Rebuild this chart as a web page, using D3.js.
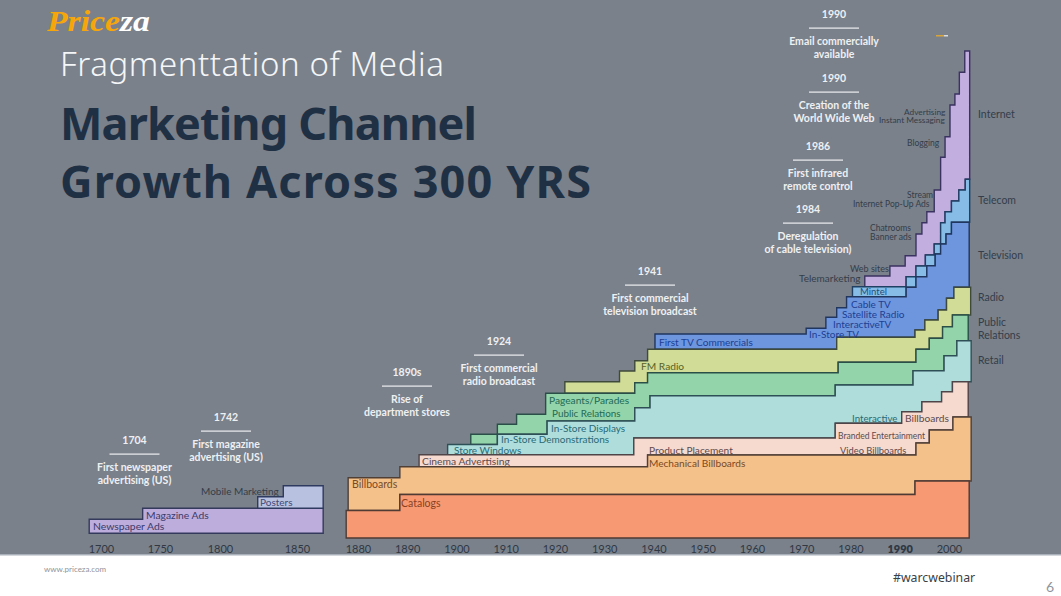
<!DOCTYPE html>
<html>
<head>
<meta charset="utf-8">
<script src="https://cdn.jsdelivr.net/npm/d3@7"></script>
<style>
    html, body { margin: 0; padding: 0; background: #7a818b; overflow: hidden; }
    text { font-family: Lato, "Noto Sans", sans-serif; }
</style>
</head>
<body>
<div id="chart"></div>
<script>
//tick labels
const earlyTicks = [1700, 1750, 1800, 1850];
const modernTicks = [1880, 1890, 1900, 1910, 1920, 1930, 1940, 1950, 1960, 1970, 1980, 1990, 2000];

//each band is a list of [year, level], the level holds until the next year, last entry only ends the band
const earlyBase = [[1690, 4.7], [1867, 4.7]];
const print = [[1690, 18.7], [1735.3, 29.7], [1867, 29.7]];
const outdoorEarly = [[1824.5, 41.3], [1841.1, 52.3], [1867, 52.3]];

const modernBase = [[1877.6, 0], [2004.1, 0]];
const catalogs = [[1877.6, 27.5], [1888.5, 43.5], [1993.1, 57], [2004.1, 57]];
const billboards = [[1878, 60.3], [1888.5, 71.3], [1938.8, 83], [1993.3, 95], [1996, 108], [2000.8, 121], [2004.5, 121]];
const cinema = [[1892.4, 83.3], [1936, 100], [1976.9, 114.7], [1990.4, 126.3], [1994.5, 136.3], [1998.5, 146.3], [2000.7, 156.3], [2003.9, 156.3]];
const retail = [[1898.2, 93.5], [1908.3, 103.7], [1918.4, 117], [1936.2, 130.3], [1939.3, 142.3], [1976.9, 153], [1992.7, 167.3], [1999, 182.3], [2001.6, 197.3], [2004.5, 197.3]];
const publicRelations = [[1902.9, 103.7], [1908.3, 113.7], [1912.2, 123.7], [1918.1, 144.7], [1936.2, 155.3], [1938.8, 165.3], [1977.5, 175.7], [1993.3, 188.7], [1996, 199.7], [1998.7, 211.3], [2000.7, 223], [2003.9, 223]];
const radio = [[1922, 156.3], [1933.1, 167], [1936.2, 177.3], [1938.8, 188.7], [1977.2, 200.7], [1993.1, 208], [1995.1, 218], [1997.8, 228], [1999.5, 239.7], [2001, 250.7], [2004.4, 250.7]];
const television = [[1940.3, 204], [1971, 209.7], [1975, 220.7], [1977.2, 230.3], [1979.2, 241.3], [1991.3, 250.7], [1993.3, 261.3], [1995.5, 272.3], [1997.2, 284], [1998.3, 294], [1999.4, 304], [2000.5, 315.7], [2004.1, 315.7]];
const telecom = [[1980.4, 251.3], [1991.3, 261.3], [1993.3, 272], [1995.2, 283], [1997, 294], [1998.3, 315.3], [1999.2, 326.3], [2000.5, 337], [2002, 348], [2003.3, 358.7], [2004.2, 358.7]];
const internet = [[1982.9, 262], [1988, 272], [1991.1, 282.3], [1993.3, 304], [1994.5, 315.3], [1995.5, 326.3], [1997, 348], [1998.3, 380.7], [1999.2, 401.3], [2000.2, 433], [2001.2, 444], [2002.1, 465.7], [2003.2, 487], [2004.2, 487]];

const milestoneYears = ["1704", "1742", "1890s", "1924", "1941", "1984", "1986", "1990", "1990"];
const milestoneTexts = [
    ["First newspaper", "advertising (US)"],
    ["First magazine", "advertising (US)"],
    ["Rise of", "department stores"],
    ["First commercial", "radio broadcast"],
    ["First commercial", "television broadcast"],
    ["Deregulation", "of cable television)"],
    ["First infrared", "remote control"],
    ["Creation of the", "World Wide Web"],
    ["Email commercially", "available"]
];

const channelNames = ["Newspaper Ads", "Magazine Ads", "Posters", "Mobile Marketing", "Billboards", "Catalogs",
    "Cinema Advertising", "Store Windows", "In-Store Demonstrations", "In-Store Displays", "Public Relations",
    "Pageants/Parades", "FM Radio", "First TV Commercials", "Product Placement", "Mechanical Billboards",
    "Video Billboards", "Branded Entertainment", "Interactive", "Billboards", "In-Store TV", "InteractiveTV",
    "Satellite Radio", "Cable TV", "Mintel", "Telemarketing", "Web sites", "Banner ads", "Chatrooms",
    "Internet Pop-Up Ads", "Stream", "Blogging", "Instant Messaging", "Advertising"];
const groupNames = ["Internet", "Telecom", "Television", "Radio", "Public", "Relations", "Retail"];

//set dimensions
const width = 1061, height = 596, footerTop = 555;

const svg = d3.select("#chart")
    .append("svg")
    .attr("width", width)
    .attr("height", height)
    .style("display", "block");

svg.append("rect").attr("width", width).attr("height", height).attr("fill", "#7a818b");
svg.append("rect").attr("y", footerTop).attr("width", width).attr("height", height - footerTop).attr("fill", "#ffffff");
svg.append("rect").attr("y", footerTop - 1).attr("width", width).attr("height", 1.5).attr("fill", "#a9b0b9");

//scales: the time axis is broken in two parts, the early part is not even linear
const xEarly = d3.scaleLinear().domain(earlyTicks).range([101, 160, 220, 297]);
const xModern = d3.scaleLinear().domain([1880, 2000]).range([358, 949]);
const yLevel = d3.scaleLinear().domain([0, 500]).range([538, 38]);

function levelAt(steps, year) {
    let level = steps[0][1];
    steps.forEach(s => { if (s[0] <= year) level = s[1]; });
    return level;
}

function drawBand(xScale, top, bottom, fill, stroke) {
    const first = top[0][0], last = top[top.length - 1][0];
    const years = Array.from(new Set(top.concat(bottom).map(s => s[0])))
        .filter(y => y >= first && y <= last)
        .sort((a, b) => a - b);
    const area = d3.area()
        .curve(d3.curveStepAfter)
        .x(d => xScale(d))
        .y0(d => yLevel(levelAt(bottom, d)))
        .y1(d => yLevel(levelAt(top, d)));
    svg.append("path")
        .attr("d", area(years))
        .attr("fill", fill)
        .attr("stroke", stroke)
        .attr("stroke-width", 1.4)
        .attr("stroke-linejoin", "miter");
}

drawBand(xEarly, print, earlyBase, "#bdaddc", "#333a5c");
drawBand(xEarly, outdoorEarly, print, "#b9c1e0", "#2f3a60");

drawBand(xModern, internet, telecom, "#c3aee0", "#3a3260");
drawBand(xModern, telecom, television, "#86bce6", "#1f3f63");
drawBand(xModern, television, radio, "#6e96de", "#20365f");
drawBand(xModern, radio, publicRelations, "#d1dc96", "#3f4a3a");
drawBand(xModern, publicRelations, retail, "#94d4aa", "#2a4f48");
drawBand(xModern, retail, cinema, "#aedddc", "#2e4f56");
drawBand(xModern, cinema, billboards, "#f6d9cf", "#4f4448");
drawBand(xModern, billboards, catalogs, "#f4c18b", "#503f34");
drawBand(xModern, catalogs, modernBase, "#f79a73", "#4f3a34");

//x axes, only the labels are visible
function drawAxis(scale, ticks) {
    const axis = d3.axisBottom(scale)
        .tickValues(ticks)
        .tickFormat(d3.format("d"))
        .tickSize(0)
        .tickPadding(0);
    const g = svg.append("g")
        .attr("transform", "translate(0,545)")
        .call(axis);
    g.select(".domain").remove();
    g.selectAll("text")
        .style("font-family", "Lato, sans-serif")
        .style("font-size", "11px")
        .attr("fill", "#2f3844")
        .attr("font-weight", d => d === 1990 ? 800 : 400);
}
drawAxis(xEarly, earlyTicks);
drawAxis(xModern, modernTicks);

//milestones above the steps: center x, y of the year
const milestoneSpots = [[134.5, 444], [226, 421], [407, 376], [499, 345], [650, 275], [808, 213], [818, 150], [834, 82], [834, 18]];
milestoneYears.forEach((year, i) => {
    const [cx, cy] = milestoneSpots[i];
    const g = svg.append("g").attr("text-anchor", "middle").attr("fill", "#eef0f2");
    g.append("text").attr("x", cx).attr("y", cy).attr("font-size", 10.5).attr("font-weight", 700).text(year);
    g.append("rect").attr("x", cx - 25).attr("y", cy + 9.5).attr("width", 50).attr("height", 1.2);
    milestoneTexts[i].forEach((line, j) => {
        g.append("text")
            .attr("x", cx)
            .attr("y", cy + 27 + j * 13.3)
            .attr("font-size", 10.5)
            .attr("font-weight", 700)
            .text(line);
    });
});

//channel labels: x, y, color, size
const gray = "#343d49", brown = "#7a4a24", rust = "#8a3f22", rose = "#5c4b4d", sea = "#2b6a74", leaf = "#1f6a55", olive = "#566228", navy = "#1d3f93";
const channelSpots = [
    [93, 530, "#3b3a6a", 10.4], [146, 519, "#3b3a6a", 10.3], [260, 506, "#3f4a78", 10], [201, 495, gray, 10],
    [352, 488, brown, 10.5], [401, 507, rust, 10.5], [422, 465, rose, 10.3], [454, 454, sea, 10],
    [501, 443, sea, 10], [551, 432, sea, 10], [552, 417, leaf, 9.9], [549, 404, leaf, 10.2],
    [641, 370, olive, 10.2], [659, 346, navy, 10.1], [649, 454, rose, 10.1], [649, 467, brown, 10.1],
    [840, 454, rose, 9.3], [838, 439, rose, 8.5], [852, 422, sea, 9.7], [905, 422, rose, 10.2],
    [809, 338, navy, 10], [833, 328, navy, 10], [842, 318, navy, 10], [851, 308, navy, 10],
    [860, 295, "#1f4f7a", 9.5], [799, 282, gray, 10], [850, 272, gray, 9], [870, 240, gray, 8.5],
    [870, 231, gray, 8.5], [853, 207, gray, 8.5], [907, 198, gray, 8.5], [907, 146, gray, 8.5],
    [879, 123, gray, 8.3], [904, 115, gray, 8.3]
];
channelNames.forEach((name, i) => {
    const s = channelSpots[i];
    svg.append("text").attr("x", s[0]).attr("y", s[1]).attr("fill", s[2]).attr("font-size", s[3]).text(name);
});

const groupRows = [118, 204, 259, 301, 326, 339, 364];
groupNames.forEach((name, i) => {
    svg.append("text").attr("x", 978).attr("y", groupRows[i]).attr("fill", gray).attr("font-size", 10.5).text(name);
});

//headings
const headingFont = "'Noto Sans', sans-serif";
svg.append("text").attr("x", 60).attr("y", 76).attr("fill", "#f4f6f8")
    .attr("font-size", 33).attr("font-weight", 300).style("font-family", headingFont)
    .attr("textLength", 384).text("Fragmenttation of Media");
svg.append("text").attr("x", 60).attr("y", 140).attr("fill", "#1f3044")
    .attr("font-size", 45).attr("font-weight", 700).style("font-family", headingFont)
    .attr("textLength", 417).text("Marketing Channel");
svg.append("text").attr("x", 60).attr("y", 198).attr("fill", "#1f3044")
    .attr("font-size", 45).attr("font-weight", 700).style("font-family", headingFont)
    .attr("textLength", 531).text("Growth Across 300 YRS");

//logo
const logo = svg.append("text").attr("x", 47).attr("y", 31)
    .attr("font-size", 30).attr("font-weight", 700).attr("font-style", "italic")
    .style("font-family", "'Liberation Serif', serif")
    .attr("textLength", 103)
    .attr("lengthAdjust", "spacingAndGlyphs");
logo.append("tspan").attr("fill", "#f7a60a").text("Price");
logo.append("tspan").attr("fill", "#ffffff").text("za");

//small mark next to the top of the chart
svg.append("rect").attr("x", 936).attr("y", 35).attr("width", 8).attr("height", 1.5).attr("fill", "#d9a53a");
svg.append("rect").attr("x", 944).attr("y", 35).attr("width", 4).attr("height", 1.5).attr("fill", "#d9dde2");

//footer
svg.append("text").attr("x", 44).attr("y", 572).attr("fill", "#8f949b").attr("font-size", 8).text("www.priceza.com");
svg.append("text").attr("x", 893).attr("y", 582).attr("fill", "#3a3f46").attr("font-size", 12.3)
    .style("font-family", "'Noto Sans', sans-serif").text("#warcwebinar");
svg.append("text").attr("x", 1046).attr("y", 592).attr("fill", "#8f949b").attr("font-size", 14).text("6");
</script>
</body>
</html>
